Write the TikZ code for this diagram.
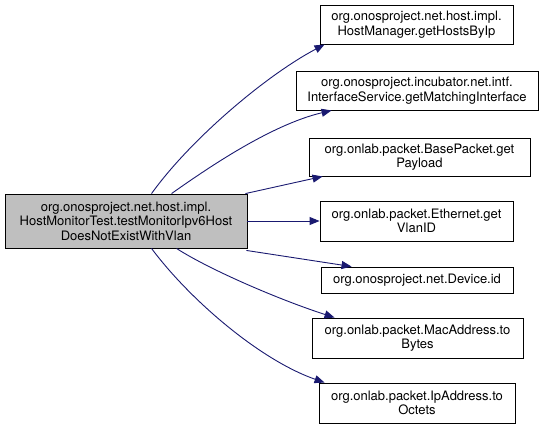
\documentclass[tikz,border=0pt]{standalone}
\usepackage{fontspec}
\setmainfont{TeX Gyre Heros}
\usetikzlibrary{arrows.meta}
\definecolor{edgeblue}{HTML}{191970}
\definecolor{mainfill}{HTML}{BFBFBF}
\begin{document}
\begin{tikzpicture}[x=1pt,y=-1pt,
  box/.style={draw=black,line width=0.9pt,fill=white,rectangle,inner sep=0pt,align=center,
    font=\fontsize{13}{14.5}\selectfont},
  mainbox/.style={box,fill=mainfill},
  edge/.style={draw=edgeblue,line width=0.9pt,-{Triangle[length=10pt,width=8pt]}}]
\useasboundingbox (0,0) rectangle (544,429);
\node[mainbox,minimum width=242pt,minimum height=54pt] (main) at (126,221)
  {org.onosproject.net.host.impl.\\HostMonitorTest.testMonitorIpv6Host\\DoesNotExistWithVlan};
\node[box,minimum width=193pt,minimum height=39pt] (b1) at (416.5,24.5)
  {org.onosproject.net.host.impl.\\HostManager.getHostsByIp};
\node[box,minimum width=242pt,minimum height=39pt] (b2) at (417,90.5)
  {org.onosproject.incubator.net.intf.\\InterfaceService.getMatchingInterface};
\node[box,minimum width=221pt,minimum height=38pt] (b3) at (419.5,157)
  {org.onlab.packet.BasePacket.get\\Payload};
\node[box,minimum width=193pt,minimum height=40pt] (b4) at (416.5,221)
  {org.onlab.packet.Ethernet.get\\VlanID};
\node[box,minimum width=192pt,minimum height=26pt] (b5) at (417,280)
  {org.onosproject.net.Device.id};
\node[box,minimum width=211pt,minimum height=40pt] (b6) at (417.5,338)
  {org.onlab.packet.MacAddress.to\\Bytes};
\node[box,minimum width=196pt,minimum height=40pt] (b7) at (417,403)
  {org.onlab.packet.IpAddress.to\\Octets};
% connectors
\draw[edge] ([xshift=147pt]main.north west) .. controls (190,140) and (265,76) .. ([xshift=5pt]b1.south west);
\draw[edge] ([xshift=167pt]main.north west) .. controls (205,170) and (270,125) .. ([xshift=36pt]b2.south west);
\draw[edge] ([xshift=-2pt]main.north east) -- ([xshift=14pt]b3.south west);
\draw[edge] (main.east) -- (b4.west);
\draw[edge] ([xshift=-1pt,yshift=-2pt]main.south east) -- ([xshift=31pt]b5.north west);
\draw[edge] ([xshift=172pt]main.south west) .. controls (210,270) and (280,300) .. ([xshift=23pt]b6.north west);
\draw[edge] ([xshift=147pt]main.south west) .. controls (190,300) and (260,360) .. ([xshift=6pt]b7.north west);
\end{tikzpicture}
\end{document}
